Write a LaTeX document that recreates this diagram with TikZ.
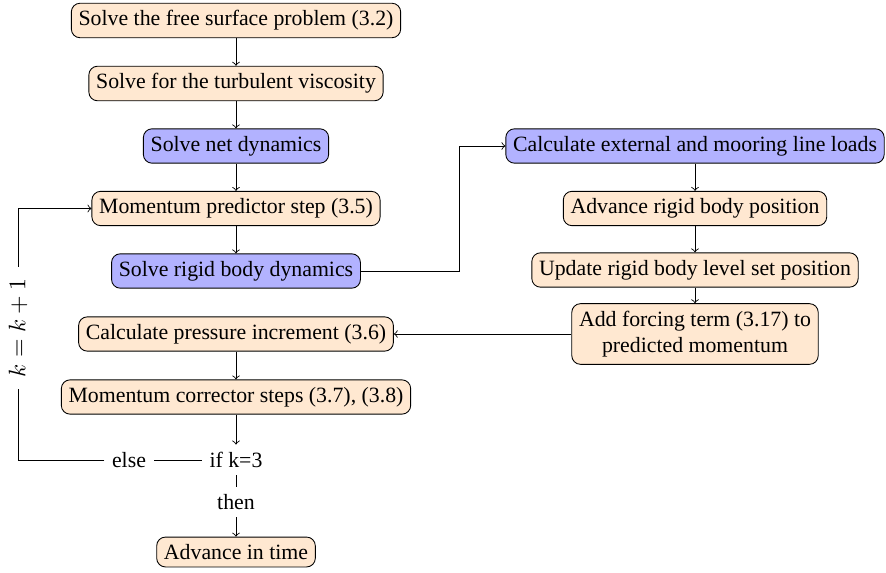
\documentclass[tikz,border=0pt]{standalone}
\usepackage{amsmath}
\usepackage{fontspec}
\setmainfont{Liberation Serif}
\usepackage{tikz}
\usetikzlibrary{positioning,calc,arrows}
\tikzset{box/.style={draw,rounded corners,fill=orange!18},
  solver/.style={box,fill=blue!30},
  lbl/.style={fill=white,rotate=90,inner sep=5pt,font=\fontsize{10.5}{12}\selectfont}}

\begin{document}
\begin{tikzpicture}[x=0.4587pt,y=-0.4587pt]
\useasboundingbox (0,0) rectangle (886,572);
% left column
\node[box] (n1) at (236,20.5) {Solve the free surface problem (3.2)};
\node[box] (n2) at (236,83.5) {Solve for the turbulent viscosity};
\node[solver] (n3) at (236,146) {Solve net dynamics};
\node[box] (n4) at (236,208.5) {Momentum predictor step (3.5)};
\node[solver] (n5) at (236,271) {Solve rigid body dynamics};
\node[box] (n6) at (236,334) {Calculate pressure increment (3.6)};
\node[box] (n7) at (236,397) {Momentum corrector steps (3.7), (3.8)};
\node (ifk) at (236,460) {if k=3};
\node (els) at (129,460) {else};
\node (thn) at (236,502) {then};
\node[box] (n8) at (236,552) {Advance in time};
% right column
\node[solver] (r1) at (695,146) {Calculate external and mooring line loads};
\node[box] (r2) at (695,208.5) {Advance rigid body position};
\node[box] (r3) at (695,270) {Update rigid body level set position};
\node[box,align=center] (r4) at (695,334) {Add forcing term (3.17) to\\predicted momentum};
\coordinate (lb) at (18,460);
\coordinate (lt) at (18,208.5);
\draw[->] (n1) -- (n2); \draw[->] (n2) -- (n3); \draw[->] (n3) -- (n4);
\draw[->] (n4) -- (n5); \draw[->] (n6) -- (n7); \draw[->] (n7) -- (ifk);
\draw (ifk) -- (thn); \draw[->] (thn) -- (n8);
\draw (ifk) -- (els);
\draw[->] (els) -- (lb) -- node[lbl,pos=.525] {$k=k+1$} (lt) -- (n4);
\draw[->] (n5.east) -- ++(99,0) |- (r1.west);
\draw[->] (r1) -- (r2); \draw[->] (r2) -- (r3); \draw[->] (r3) -- (r4);
\draw[->] (r4) -- (n6);
\end{tikzpicture}
\end{document}
